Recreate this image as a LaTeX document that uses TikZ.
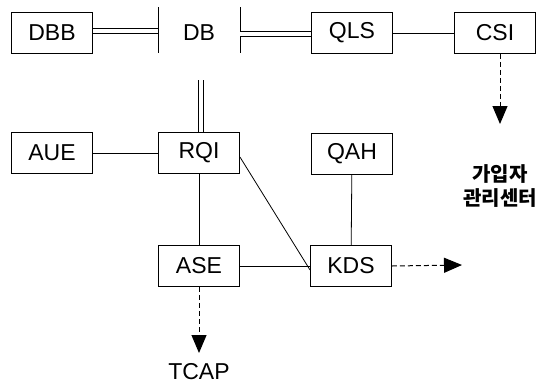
\documentclass[tikz,border=0pt]{standalone}
\usepackage{fontspec}
\setmainfont{Liberation Sans}
\newfontfamily\cjk{Noto Sans CJK KR}
\usetikzlibrary{arrows.meta}
\begin{document}
\begin{tikzpicture}[x=1pt,y=-1pt,
  every node/.style={font=\fontsize{23}{26}\selectfont},
  box/.style={draw,line width=0.9pt,minimum width=81pt,minimum height=41pt,inner sep=0pt},
  conn/.style={line width=0.8pt},
  dbl/.style={double distance=4pt,line width=0.8pt},
  darrow/.style={line width=1pt,dash pattern=on 5pt off 3pt,-{Triangle[width=15pt,length=18pt]}},
  lbl/.style={inner sep=0pt}]
\useasboundingbox (0,0) rectangle (554,386);
\node[box] (dbb) at (52,33) {DBB};
\node[lbl] (db) at (199,33) {DB};
\coordinate (dbL1) at (158,7);
\coordinate (dbL2) at (158,53);
\coordinate (dbR1) at (240,7);
\coordinate (dbR2) at (240,53);
\coordinate (dbL) at (158,31);
\coordinate (dbR) at (240,34);
\coordinate (dbB) at (201,80);
\node[box] (qls) at (352,33) {QLS};
\node[box] (csi) at (495,33) {CSI};
\node[box] (aue) at (52,153) {AUE};
\node[box] (rqi) at (199,153) {RQI};
\node[box] (qah) at (352,154) {QAH};
\node[box] (ase) at (199,266) {ASE};
\node[box] (kds) at (351,266) {KDS};
\coordinate (csiT) at (500,124);
\coordinate (kdsT) at (462,265);
\coordinate (aseT) at (199,353);
\node[lbl,font=\cjk\fontsize{20}{23}\selectfont\bfseries,align=center] (ko) at (500,186) {가입자\\[1pt]관리센터};
\node[lbl] (tcap) at (199,372) {TCAP};
\draw[conn] (dbL1) -- (dbL2);
\draw[conn] (dbR1) -- (dbR2);
\draw[dbl] (dbb.east |- dbL) -- (dbL);
\draw[dbl] (dbR) -- (qls.west |- dbR);
\draw[dbl] (dbB) -- (rqi.north -| dbB);
\draw[conn] (qls) -- (csi);
\draw[conn] (aue) -- (rqi);
\draw[conn] (rqi) -- (ase);
\draw[conn] (ase) -- (kds);
\draw[conn] (qah) -- (kds);
\draw[conn] (rqi.east) ++(0,4) -- ([yshift=-4pt]kds.west);
\draw[darrow] (csi.south -| csiT) -- (csiT);
\draw[darrow] (kds.east) -- (kdsT);
\draw[darrow] (ase.south) -- (aseT);
\end{tikzpicture}
\end{document}
